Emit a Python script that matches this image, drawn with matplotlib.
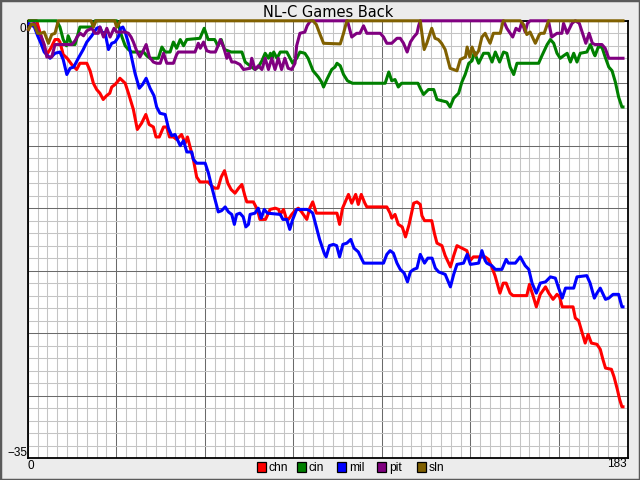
import matplotlib

matplotlib.use("Agg")
import matplotlib.pyplot as plt
from matplotlib.patches import Rectangle
from matplotlib.ticker import MultipleLocator

# games back per team as (day, games back) breakpoints
chn_day = [0, 1, 2.7, 4, 5, 5.8, 7, 8.3, 9.3, 9.8, 10.8, 12, 13.4, 14.9, 15.9, 18, 19, 20, 21, 22,
           23, 24, 25, 25.6, 26.6, 27.6, 28.1, 29.7, 30.7, 32.2, 33.4, 34.7, 36, 37, 38.3, 39.1, 40.1,
           41.4, 42.4, 43.2, 44.4, 45.4, 46.9, 48, 48.7, 49.7, 50.5, 51.5, 52.5, 55, 56, 57, 58, 59,
           60, 61, 62, 63.2, 64.3, 65.3, 66.2, 66.8, 68.8, 69.8, 70.3, 70.8, 72.5, 73.9, 75.5, 76.5,
           77, 78, 78.8, 79.5, 80.5, 81.5, 82.5, 83.5, 85.1, 86, 86.9, 88, 94.3, 95.1, 96, 97.8,
           98.8, 100, 100.8, 101.7, 102.8, 103.4, 109.5, 110.5, 111, 112, 113, 114.2, 115.2, 116.3,
           117.7, 118.7, 119.7, 120.2, 121, 123.2, 124, 124.8, 126.3, 127.3, 128.9, 129.9, 130.9,
           132.4, 133.9, 134.9, 135.9, 139.5, 140.5, 141.5, 142.5, 144, 145, 145.9, 147.1, 148,
           152.2, 153, 154.2, 155.1, 156.3, 157.9, 158.9, 160.2, 161.4, 162.2, 163, 166.3, 167, 168,
           169, 170, 170.9, 171.9, 173.6, 174.6, 175.4, 176.2, 178, 178.8, 179.8, 180.5, 181.2, 182]
chn_gb = [0, 0, 0, 1.2, 2, 2.7, 2.2, 1.5, 1.5, 1.7, 2.7, 3, 3.5, 3.9, 3.4, 3.4, 4, 5, 5.5, 5.8,
          6.3, 6, 5.8, 5.3, 5.1, 4.8, 4.6, 5, 5.8, 7.1, 8.7, 8.2, 7.5, 8.3, 8.5, 9.3, 9.3,
          8.5, 8.5, 9.3, 9.3, 9.5, 9.1, 9.8, 9.3, 10.3, 11.1, 12.5, 12.9, 12.9, 13.2, 13.4, 13.4, 12.5,
          12, 13, 13.5, 13.8, 13.4, 13.1, 14, 14.5, 14.5, 15, 15.4, 15.9, 15.9, 15.1, 15, 15.1,
          15.5, 15.1, 15.8, 15.9, 15.5, 15.2, 15, 15.3, 15.9, 15, 14.5, 15.4, 15.4, 16.3, 15, 13.9,
          14.6, 13.9, 14.7, 13.9, 14.6, 14.9, 14.9, 15.4, 15.8, 15.5, 16.3, 16.5, 17.3, 16.3,
          14.6, 14.5, 14.7, 15.6, 16, 16, 17, 17.8, 18, 18.8, 19.7, 18.8, 18,
          18.2, 18.4, 19.2, 18.9, 18.9, 19.1, 19.7, 20.4, 21.8, 21, 21, 21.8, 22,
          22, 21.1, 22.1, 22.9, 21.9, 21.3, 21.8, 22.3, 21.9, 22.1, 22.9, 22.9, 23.8, 24,
          24.9, 25.8, 25.1, 25.8, 25.9, 26.3, 27.1, 27.8, 27.9, 28.5, 29.5, 30.3, 30.9, 30.9]

cin_day = [0, 8.8, 9.8, 10.8, 11.8, 12.3, 13.4, 14.4, 15.9, 18, 19.5, 20.5, 27.1, 27.6, 28.6, 29.7,
           30.7, 31.7, 35.3, 36.3, 37.3, 39.8, 40.9, 41.9, 43.4, 44.4, 45.4, 46.5, 47.5, 48.5, 52.5,
           53.8, 55, 57, 58, 59, 60, 61, 62, 65.3, 66.3, 68.3, 69.3, 70.3, 71.4, 72.4, 73.4, 74,
           74.5, 75, 76, 77, 79, 80, 80.8, 82, 83, 84.5, 85.5, 87, 88.6, 89.6, 90.2, 91.2, 92.7,
           93.7, 94.3, 95.3, 96.3, 97.5, 99, 109, 110.1, 111, 112, 113, 114, 115.5, 119, 119.7,
           120.7, 122.2, 123.8, 124.8, 127.8, 128.8, 129.9, 131.4, 132.4, 133.4, 134.5, 135.5, 136.2,
           137.5, 139, 140.5, 141.6, 142.6, 143.9, 145.1, 146.1, 147.1, 148.2, 149.2, 155.8, 156.8,
           158.4, 159.4, 160.4, 161.4, 162.4, 163.4, 164.5, 165.5, 166.5, 167.5, 168.5, 170.5, 171.6,
           172.6, 173, 174, 175.1, 176.1, 177.2, 178.2, 179.2, 180.2, 181.2, 182]
cin_gb = [0, 0, 0.5, 1.5, 2, 1.2, 1.9, 1.9, 0.5, 0.5, 0.5, 0, 0, 0.3, 1.2, 2,
          2.3, 2.5, 2.5, 2.8, 3, 3, 2.1, 2.5, 2.5, 1.7, 2.2, 1.5, 2, 1.5, 1.4,
          0.6, 1.5, 1.5, 2, 1.5, 2.3, 2.4, 2.5, 2.5, 3.3, 3.7, 3.9, 3.7, 3.2, 2.6, 3, 2.6,
          3, 2.5, 3, 2.5, 2.5, 3, 3.4, 3, 2.5, 2.6, 3, 4, 4.5, 4.9, 5.3, 4.7, 3.9,
          3.7, 3.4, 3.6, 4.3, 4.8, 5, 5, 4.1, 4.8, 4.7, 5.3, 5, 5, 5, 5.4,
          5.9, 5.5, 5.5, 6.3, 6.5, 6.9, 6.2, 5.8, 4.9, 4.3, 3.4, 3.2, 2.5,
          3.4, 2.6, 2.6, 3.3, 2.5, 3.3, 2.5, 2.6, 3.7, 4.3, 3.4, 3.4, 2.8,
          1.9, 1.5, 1.8, 2.6, 3, 2.8, 2.6, 3.3, 2.6, 3.3, 2.6, 2.5, 1.9,
          2.6, 2.8, 2.1, 2.1, 2.9, 3.7, 4, 4.9, 6.1, 6.9, 6.9]

mil_day = [0, 1, 2, 3, 4, 5, 6.8, 8.3, 9.8, 10.8, 11.9, 12.9, 14, 15.4, 16.9, 18, 19.5, 21, 22, 22.6,
           23.6, 24.6, 25.6, 26.6, 27.6, 28.3, 29, 29.7, 30.7, 31.7, 32.7, 34, 35, 36.1, 37.3, 38.5,
           39.3, 40.3, 41.9, 42.9, 43.9, 44.9, 46.5, 47.5, 48.5, 50, 50.5, 51.5, 54.1, 55.1, 56.1,
           57.1, 58.1, 59.1, 60.2, 61.2, 62.2, 63, 63.7, 64.7, 65.7, 66.5, 67.3, 67.8, 69.3, 70.3,
           71.2, 72.1, 73.1, 77, 77.8, 79, 79.9, 80.8, 82, 85.1, 86, 86.9, 88, 89, 90.4, 91, 92,
           93.2, 94.2, 95.1, 96.1, 97.3, 98.5, 99.5, 100.8, 101.9, 102.5, 108.5, 109.5, 110.5, 111.5,
           112.6, 113.6, 114.8, 115.8, 116.7, 117.7, 118.7, 119.7, 121, 122, 123.3, 124.3, 125.3,
           127.3, 128.9, 129.9, 130.9, 132.9, 134, 135, 137.5, 138.5, 139.5, 140, 141.5, 142.6,
           144.6, 145.9, 146.6, 148.7, 150.2, 151.7, 152.8, 153.8, 155.1, 156.3, 157.9, 159.4,
           160.9, 161.9, 163, 164, 166.5, 167.5, 170.5, 171.5, 172.8, 173.6, 174.6, 176.2, 177.2,
           178.5, 180.2, 181.2, 182]
mil_gb = [0.2, 0.3, 0.5, 1.2, 1.8, 2.5, 3, 2.6, 2.5, 3.1, 4.3, 3.8, 3.7, 3, 2.3, 1.7, 1.2, 0.6, 0.5, 0.9,
          1, 2.3, 1.8, 1.7, 1.3, 0.6, 0.5, 0.9, 1.8, 3, 4.2, 5.4, 5.1, 4.6, 5.4, 6,
          6.9, 7.4, 7.5, 8.6, 9.2, 9.1, 10, 9.6, 10.5, 10.5, 11.1, 11.4, 11.4, 12.2, 13.3,
          14.3, 15.3, 15.2, 14.9, 15.3, 15.5, 16.3, 15.5, 15.4, 15.7, 16.5, 16.3, 15.5, 15.4, 15,
          15.8, 15.1, 15.4, 15.5, 15.9, 15.9, 16.7, 15.9, 15.1, 15.1, 15.2, 15.4, 16.5, 17.5, 18.6, 18.9, 18,
          17.9, 18, 18.9, 17.9, 17.8, 17.5, 18.2, 18.5, 19.1, 19.4, 19.4, 18.7, 18.4, 18.6,
          19.4, 19.9, 20.2, 20.9, 20.1, 19.9, 19.8, 18.7, 19.4, 19, 19, 19.8, 20.1,
          20.3, 21.3, 20.3, 19.5, 19.4, 18.7, 19.5, 19.4, 18.4, 19.2, 19.4, 19.6, 19.9,
          19.9, 19.1, 19.4, 19.4, 18.9, 19.6, 19.9, 21, 21.8, 21, 20.9, 20.5,
          20.6, 21.4, 22.2, 21.4, 21.4, 20.5, 20.4, 21, 22.2, 21.8, 21.4, 22.3, 22.2,
          21.9, 21.9, 22.9, 22.9]

pit_day = [0, 1, 2, 3, 4, 5, 5.8, 7.3, 8.3, 13.4, 14.4, 15, 16, 17, 18, 19.5, 20.5, 21.5, 22, 23.1,
           24.1, 25.1, 26.3, 27.1, 28.2, 29.7, 30.7, 31.5, 32.2, 33.2, 34.2, 35.2, 36.1, 37.1, 38.3,
           39.3, 40.4, 41.4, 42.4, 44.4, 45.4, 45.9, 51, 52, 52.6, 53.6, 54.6, 55.7, 57.2, 58.2, 58.7,
           59.7, 60.7, 61.2, 62.2, 63.2, 64.7, 65.8, 67.8, 68.3, 69.3, 70.3, 71.4, 72.4, 73.4, 74.4,
           75.4, 76.4, 77.4, 78.4, 79.4, 80.5, 81.5, 82, 83, 84.5, 85.2, 86.2, 97.5, 98.3, 98.8,
           100.3, 101.3, 102.4, 103.4, 107.5, 108.5, 109.5, 111, 112.6, 113.6, 114.6, 115.7, 116.7,
           117.7, 118.7, 119.2, 119.7, 145.1, 146.1, 147.9, 148.9, 149.9, 150.7, 151.7, 152.4, 153.2,
           158.8, 159.8, 161.4, 162.9, 163.4, 164.5, 166, 167, 168.2, 169.2, 170.2, 171.2, 172.2,
           173, 175.1, 176.1, 177.2, 182]
pit_gb = [0.8, 0.3, 0.2, 0.8, 1.2, 1.9, 2.9, 2.9, 1.9, 1.9, 1.6, 1.3, 1, 1.2, 0.8, 0.6, 1, 1, 0.5, 1.3,
          0.6, 1.3, 0.6, 0.9, 0.9, 0.9, 1, 1.3, 1.7, 2.4, 2.9, 2.4, 1.9, 2.9, 3.3,
          3.4, 3.4, 2.6, 3.4, 3.4, 2.7, 2.5, 2.5, 1.8, 2.2, 1.7, 2.4, 2.5, 2.5, 1.9, 1.5,
          2.1, 3, 2.6, 3.3, 3.3, 3.5, 3.9, 3.8, 3, 3.9, 3.6, 3.9, 3, 3.9, 3,
          3.9, 3, 3.9, 3, 3.8, 3.9, 3.4, 2, 1, 0.9, 0.4, 0, 0, 0.8, 1.3,
          1, 1, 0.4, 1, 1, 1.3, 1.8, 1.8, 1.4, 1.4, 1.8, 2.5, 1.7,
          1.3, 1, 0.4, 0, 0, 0.6, 1.3, 0.6, 0.8, 0.1, 0.9, 0.2, 0,
          0, 1.3, 1, 1, 0.2, 1, 0.2, 0, 0.2, 1, 1.8, 1, 1.8,
          1.9, 1.9, 2.2, 3, 3]

sln_day = [0, 1, 2, 3, 4, 5, 6.3, 7.3, 8.3, 9.3, 19.3, 20, 20.8, 26.5, 27.1, 28.3, 87, 88, 89, 90.2,
           95.3, 96.3, 97.3, 119.7, 120.2, 120.9, 121.7, 123.2, 124.2, 125.2, 126.2, 127.3, 128,
           128.8, 130.9, 131.9, 133.5, 134, 134.8, 135.5, 136.5, 137.5, 138.5, 139.5, 140, 141, 142,
           144.1, 145, 150.2, 151.2, 152.2, 153.2, 154.8, 156, 156.5, 157.5, 158.8, 182]
sln_gb = [0.8, 0.3, 0.3, 1, 1, 0.9, 1.8, 1.1, 1, 0, 0, 0.5, 0, 0, 0.5, 0, 0, 0.3, 1, 1.8,
          1.85, 1, 0, 0, 1, 2.3, 1.8, 0.6, 1.4, 1.5, 1.8, 2.3, 3,
          3.8, 4, 3.1, 2.9, 2.1, 2.9, 2.1, 2.8, 2.4, 1.3, 1, 1.3, 1.8, 1,
          1, 0, 0, 0.3, 1.1, 0.9, 1.8, 1.1, 1, 1, 0, 0]

teams = ["chn", "cin", "mil", "pit", "sln"]
colors = ["#ff0000", "#008000", "#0000ff", "#800080", "#806000"]
series = [(chn_day, chn_gb), (cin_day, cin_gb), (mil_day, mil_gb), (pit_day, pit_gb), (sln_day, sln_gb)]

W, H = 640, 480
fig = plt.figure(figsize=(6.4, 4.8), dpi=100, facecolor="#ececec")

# plot area in pixels: x 27.8..627.8, y 20.8..458
ax = fig.add_axes([27.8 / W, 1 - 458 / H, 600 / W, (458 - 20.8) / H])
ax.set_facecolor("white")
ax.set_xlim(0, 183)
ax.set_ylim(-35, 0)
ax.xaxis.set_major_locator(MultipleLocator(27))
ax.xaxis.set_minor_locator(MultipleLocator(3))
ax.yaxis.set_major_locator(MultipleLocator(5))
ax.yaxis.set_minor_locator(MultipleLocator(1))
ax.grid(which="minor", color="#c4c4c4", linewidth=0.75)
ax.grid(which="major", color="#6a6a6a", linewidth=0.75)
ax.set_axisbelow(True)
ax.tick_params(which="both", length=0, labelbottom=False, labelleft=False)
for side in ["left", "bottom", "right", "top"]:
    ax.spines[side].set_color("black")
    ax.spines[side].set_linewidth(1.3)

for (days, gb), color in zip(series, colors):
    ax.plot(days, [-g for g in gb], color=color, linewidth=2.2,
            solid_joinstyle="round", solid_capstyle="butt", clip_on=False, zorder=3)

font = "Liberation Sans"
fig.text(327.8 / W, 1 - 17.3 / H, "NL-C Games Back", ha="center", va="baseline",
         fontsize=10.5, family="DejaVu Sans")
fig.text(26.5 / W, 1 - 32.3 / H, "0", ha="right", va="baseline", fontsize=8.5, family=font)
fig.text(27 / W, 1 - 456 / H, "\u221235", ha="right", va="baseline", fontsize=8.5, family=font)
fig.text(28 / W, 1 - 469 / H, "0", ha="left", va="baseline", fontsize=8.5, family=font)
fig.text(627 / W, 1 - 467.3 / H, "183", ha="right", va="baseline", fontsize=8.5, family=font)

# legend row under the plot, fixed 40px slots
for i, (team, color) in enumerate(zip(teams, colors)):
    x0 = 256.5 + 40 * i
    fig.add_artist(Rectangle((x0 / W, 1 - 472.3 / H), 9.5 / W, 10 / H, transform=fig.transFigure,
                             facecolor=color, edgecolor="black", linewidth=0.9))
    fig.text((x0 + 12.2) / W, 1 - 471 / H, team, ha="left", va="baseline", fontsize=8.7, family=font)

# window-like frame
fig.add_artist(Rectangle((0, 0), 1, 1, transform=fig.transFigure, fill=False,
                         edgecolor="#5a5a5a", linewidth=2.5))

fig.savefig("out.png", dpi=100, facecolor=fig.get_facecolor())
plt.close(fig)
